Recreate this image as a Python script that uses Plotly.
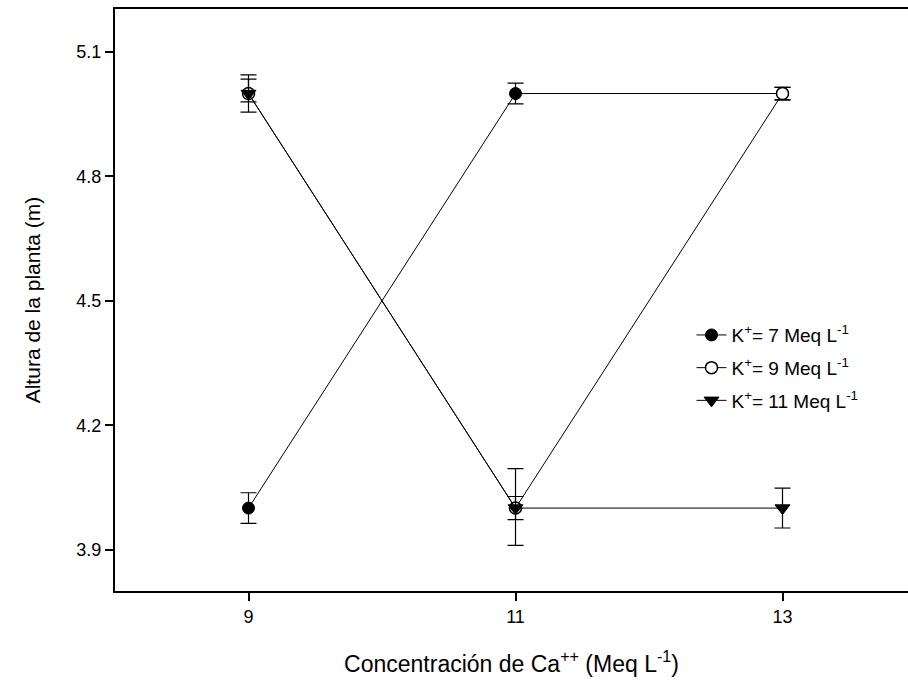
import plotly.graph_objects as go

ca = [9, 11, 13]
k7 = [4.0, 5.0, 5.0]
k7_err = [0.037, 0.025, 0.015]
k9 = [5.0, 4.0, 5.0]
k9_err = [0.045, 0.028, 0.015]
k11 = [5.0, 4.0, 4.0]
k11_err_up = [0.035, 0.095, 0.048]
k11_err_down = [0.02, 0.09, 0.048]

names = ["K<sup>+</sup>= 7 Meq L<sup>-1</sup>",
         "K<sup>+</sup>= 9 Meq L<sup>-1</sup>",
         "K<sup>+</sup>= 11 Meq L<sup>-1</sup>"]
x_ticks = [9, 11, 13]
y_ticks = [3.9, 4.2, 4.5, 4.8, 5.1]

FONT = "Liberation Sans"

fig = go.Figure()
series = [
    (k7, dict(type="data", array=k7_err),
     dict(symbol="circle", size=12, color="black", line=dict(color="black", width=1))),
    (k9, dict(type="data", array=k9_err),
     dict(symbol="circle", size=12, color="white", line=dict(color="black", width=1.5))),
    (k11, dict(type="data", array=k11_err_up, arrayminus=k11_err_down, symmetric=False),
     dict(symbol="triangle-down", size=13, color="black", line=dict(color="black", width=1))),
]
for i, (ys, err, mk) in enumerate(series):
    err.update(visible=True, color="black", thickness=1.2, width=8)
    fig.add_trace(go.Scatter(
        x=ca, y=ys, name=names[i], mode="lines+markers",
        line=dict(color="black", width=1),
        marker=mk,
        error_y=err,
        legendgroup=f"g{i}",
    ))

fig.update_layout(
    width=908, height=698,
    margin=dict(l=115, r=0, t=9, b=107),
    paper_bgcolor="white", plot_bgcolor="white",
    font=dict(family=FONT, color="black"),
    showlegend=True,
    legend=dict(x=0.727, y=0.383, xanchor="left", yanchor="middle",
                font=dict(family=FONT, size=19, color="black"),
                bgcolor="rgba(0,0,0,0)", tracegroupgap=5, itemwidth=30),
)
fig.update_xaxes(
    range=[8.0, 13.94], tickvals=x_ticks, ticktext=[str(v) for v in x_ticks],
    showline=True, linecolor="black", linewidth=2, mirror=True,
    ticks="outside", ticklen=8, tickwidth=1.5, tickcolor="black",
    showgrid=False, zeroline=False,
    tickfont=dict(family=FONT, size=18),
    title=dict(text="Concentración de Ca<sup>++</sup> (Meq L<sup>-1</sup>)",
               font=dict(family=FONT, size=23), standoff=30),
)
fig.update_yaxes(
    range=[3.8, 5.204], tickvals=y_ticks, ticktext=[f"{v:.1f}" for v in y_ticks],
    showline=True, linecolor="black", linewidth=2, mirror=False,
    ticks="outside", ticklen=8, tickwidth=1.5, tickcolor="black",
    showgrid=False, zeroline=False,
    tickfont=dict(family=FONT, size=18),
    title=dict(text="Altura de la planta (m)", font=dict(family=FONT, size=21), standoff=30),
)

fig.write_html("out.html")
